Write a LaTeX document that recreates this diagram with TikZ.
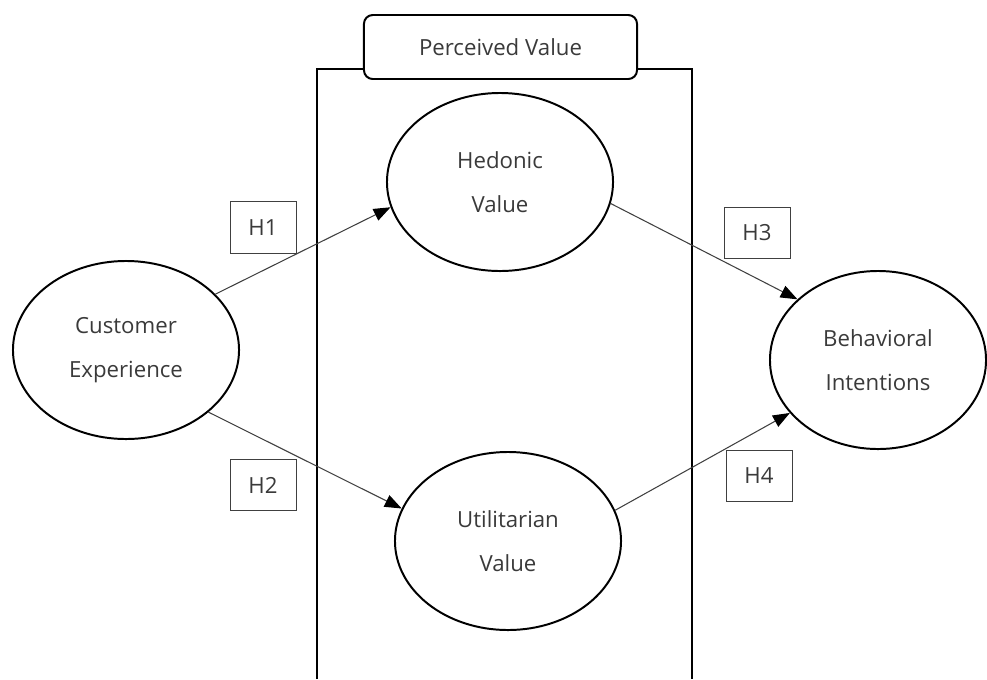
\documentclass[tikz,border=0pt]{standalone}
\usepackage{fontspec}
\setmainfont{Open Sans}
\usetikzlibrary{shapes.geometric,arrows.meta}
\definecolor{txt}{HTML}{3A3A3A}
\definecolor{ln}{HTML}{404040}
\tikzset{
  lat/.style={ellipse, draw=black, line width=1.4pt, inner sep=0pt,
    minimum width=5.65cm, minimum height=4.45cm, align=center,
    text=txt, font=\fontsize{15.8}{31}\selectfont},
  hbox/.style={rectangle, draw=ln, line width=0.7pt, inner sep=0pt,
    minimum width=1.65cm, minimum height=1.28cm, text=txt,
    font=\fontsize{15.8}{18}\selectfont},
  path/.style={draw=ln, line width=0.75pt,
    -{Triangle[length=12pt,width=9pt,color=black]}}
}
\begin{document}
\begin{tikzpicture}[x=0.025cm,y=-0.025cm]
\useasboundingbox (0,0) rectangle (987,679);
% outer frame
\draw[line width=1.4pt] (317,679) -- (317,69) -- (692,69) -- (692,679);
\node[draw=black, line width=1.4pt, fill=white, rounded corners=0.22cm,
  minimum width=6.825cm, minimum height=1.6cm, inner sep=0pt, text=txt,
  font=\fontsize{15.8}{18}\selectfont] (pv) at (500.5,47) {Perceived Value};
% constructs
\node[lat] (ce) at (126,350) {Customer\\Experience};
\node[lat] (hv) at (500,182) {Hedonic\\Value};
\node[lat] (uv) at (508,541) {Utilitarian\\Value};
\node[lat, minimum width=5.4cm] (bi) at (878,360) {Behavioral\\Intentions};
% hypothesis labels
\node[hbox] (h1) at (263,227.5) {H1};
\node[hbox] (h2) at (263,485) {H2};
\node[hbox] (h3) at (757,233) {H3};
\node[hbox] (h4) at (759,476) {H4};
% paths
\draw[path] (ce.32) -- (hv.193);
\draw[path] (ce.-37) -- (uv.163);
\draw[path] (hv.-11) -- (bi.143);
\draw[path] (uv.16) -- (bi.211);
\end{tikzpicture}
\end{document}
